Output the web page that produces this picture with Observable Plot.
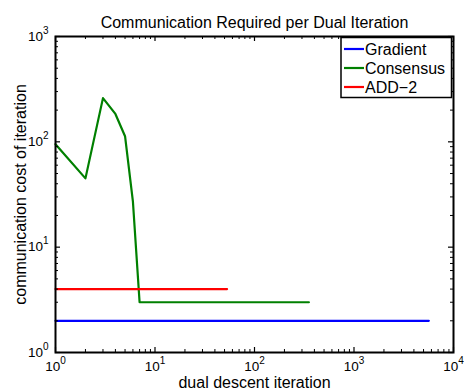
<!DOCTYPE html>
<html>
<head>
<meta charset="utf-8">
<script src="https://cdn.jsdelivr.net/npm/d3@7"></script>
<script src="https://cdn.jsdelivr.net/npm/@observablehq/plot@0.6"></script>
<style>
  body { margin: 0; background: #fff; }
  svg { font-family: "Liberation Sans", Arial, Helvetica, sans-serif; }
</style>
</head>
<body>
<div id="chart"></div>
<script>
// Communication cost per dual iteration for each method
const gradientIter = [1, 5650];
const gradientCost = [2, 2];
const consensusIter = [1, 2, 3, 4, 5, 6, 7, 352];
const consensusCost = [95, 45, 260, 184, 113, 27, 3, 3];
const add2Iter = [1, 53];
const add2Cost = [4, 4];

const seriesNames = ["Gradient", "Consensus", "ADD-2"];
const seriesColors = ["#0000ff", "#008000", "#ff0000"];

const xDomain = [1, 1e4];
const yDomain = [1, 1e3];
const xMajor = [1, 10, 100, 1000, 10000];
const yMajor = [1, 10, 100, 1000];

const titleText = "Communication Required per Dual Iteration";
const xLabel = "dual descent iteration";
const yLabel = "communication cost of iteration";

const W = 464, H = 391;
const mt = 36, mb = 39, ml = 55, mr = 11;
const innerH = H - mt - mb, innerW = W - ml - mr;

const rows = (name, xs, ys) => xs.map((x, i) => ({series: name, iter: x, cost: ys[i]}));
const data = [
  ...rows("Gradient", gradientIter, gradientCost),
  ...rows("Consensus", consensusIter, consensusCost),
  ...rows("ADD-2", add2Iter, add2Cost)
];

// minor ticks: all log ticks that are not powers of ten
const isMajor = (v) => Math.abs(Math.log10(v) - Math.round(Math.log10(v))) < 1e-9;
const xMinor = d3.scaleLog().domain(xDomain).ticks().filter(v => !isMajor(v));
const yMinor = d3.scaleLog().domain(yDomain).ticks().filter(v => !isMajor(v));

const majLen = 5, minLen = 3;
const fmt = (d) => "10^" + Math.round(Math.log10(d));

const plot = Plot.plot({
  width: W,
  height: H,
  marginTop: mt,
  marginBottom: mb,
  marginLeft: ml,
  marginRight: mr,
  style: {fontSize: "13.5px", fontFamily: "'Liberation Sans', Arial, sans-serif", background: "#fff", color: "#000"},
  x: {type: "log", domain: xDomain},
  y: {type: "log", domain: yDomain},
  color: {domain: seriesNames, range: seriesColors},
  marks: [
    Plot.line(data, {x: "iter", y: "cost", z: "series", stroke: "series", strokeWidth: 2.2}),
    // inward ticks on all four sides
    Plot.ruleX(xMajor, {x: d => d, insetTop: innerH - majLen, stroke: "#000", strokeWidth: 1.2}),
    Plot.ruleX(xMajor, {x: d => d, insetBottom: innerH - majLen, stroke: "#000", strokeWidth: 1.2}),
    Plot.ruleX(xMinor, {x: d => d, insetTop: innerH - minLen, stroke: "#000", strokeWidth: 1}),
    Plot.ruleX(xMinor, {x: d => d, insetBottom: innerH - minLen, stroke: "#000", strokeWidth: 1}),
    Plot.ruleY(yMajor, {y: d => d, insetRight: innerW - majLen, stroke: "#000", strokeWidth: 1.2}),
    Plot.ruleY(yMajor, {y: d => d, insetLeft: innerW - majLen, stroke: "#000", strokeWidth: 1.2}),
    Plot.ruleY(yMinor, {y: d => d, insetRight: innerW - minLen, stroke: "#000", strokeWidth: 1}),
    Plot.ruleY(yMinor, {y: d => d, insetLeft: innerW - minLen, stroke: "#000", strokeWidth: 1}),
    Plot.frame({stroke: "#000", strokeWidth: 2}),
    Plot.axisX({ticks: xMajor, tickSize: 0, tickPadding: 9, tickFormat: fmt, label: null}),
    Plot.axisY({ticks: yMajor, tickSize: 0, tickPadding: 7, tickFormat: fmt, label: null}),
    Plot.text([titleText], {text: d => d, frameAnchor: "top", dy: -20, fontSize: 16, fill: "#000"}),
    Plot.text([xLabel], {text: d => d, frameAnchor: "bottom", dy: 35, fontSize: 16, fill: "#000"}),
    Plot.text([yLabel], {text: d => d, frameAnchor: "left", textAnchor: "middle", dx: -35, rotate: -90, fontSize: 16, fill: "#000"})
  ]
});

const svg = d3.select(plot);

// power-of-ten tick labels with raised exponents
svg.selectAll('g[aria-label="x-axis tick label"] text, g[aria-label="y-axis tick label"] text').each(function () {
  const [base, exp] = this.textContent.split("^");
  const t = d3.select(this);
  t.text(null);
  t.append("tspan").text(base);
  t.append("tspan").attr("dy", "-7").attr("font-size", "10px").text(exp);
});

// legend box in the upper right corner
const legend = svg.append("g").attr("font-size", 16).attr("text-anchor", "start");
legend.append("rect")
  .attr("x", ml + innerW - 112).attr("y", mt + 1.5)
  .attr("width", 110.5).attr("height", 60)
  .attr("fill", "#fff").attr("stroke", "#000").attr("stroke-width", 1.5);
seriesNames.forEach((name, i) => {
  const y = mt + 13 + i * 19;
  const x0 = ml + innerW - 109;
  legend.append("line")
    .attr("x1", x0).attr("x2", x0 + 20).attr("y1", y).attr("y2", y)
    .attr("stroke", seriesColors[i]).attr("stroke-width", 2.2);
  legend.append("text")
    .attr("x", x0 + 21).attr("y", y).attr("dy", "0.35em")
    .attr("fill", "#000").text(name.replace("-", "\u2212"));
});

document.getElementById("chart").appendChild(plot);
</script>
</body>
</html>
